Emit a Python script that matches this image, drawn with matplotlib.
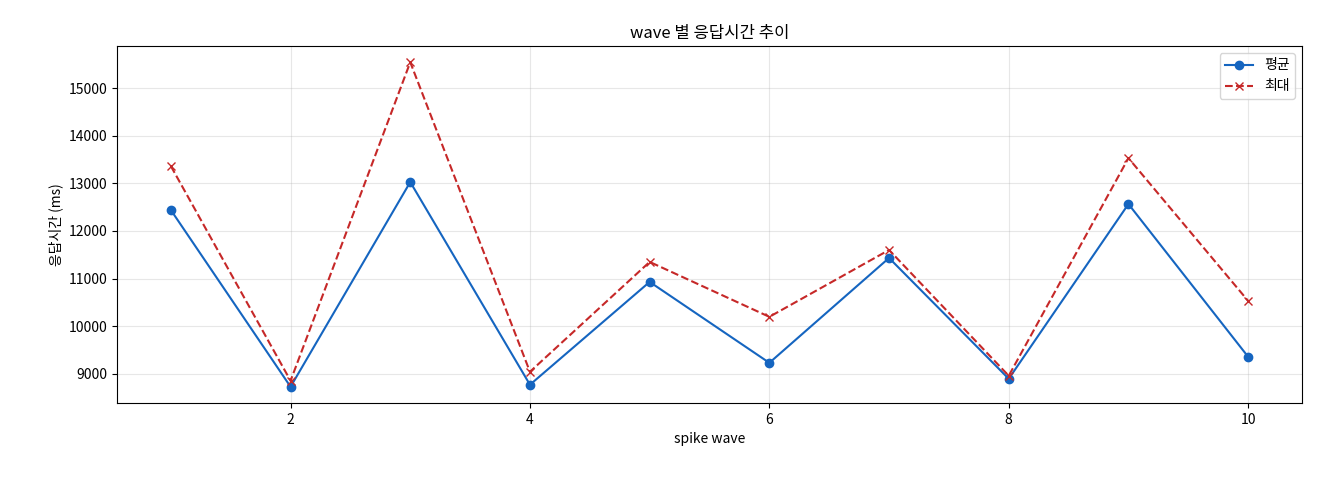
import matplotlib
matplotlib.use("Agg")
import matplotlib.pyplot as plt

plt.rcParams['font.family'] = ['Noto Sans CJK KR', 'DejaVu Sans']

waves = [1, 2, 3, 4, 5, 6, 7, 8, 9, 10]
avg_ms = [12440, 8727, 13028, 8770, 10930, 9230, 11433, 8895, 12566, 9357]
max_ms = [13363, 8853, 15545, 9042, 11350, 10196, 11601, 8958, 13531, 10531]

fig = plt.figure(figsize=(13.2, 4.8), dpi=100)
ax = fig.add_axes([117/1320, 1 - 403/480, (1302-117)/1320, (403-46)/480])
ax.plot(waves, avg_ms, '-o', color='#1565C0', markersize=6, label='평균')
ax.plot(waves, max_ms, '--x', color='#C62828', markersize=6, label='최대')
ax.set_title('wave 별 응답시간 추이')
ax.set_xlabel('spike wave')
ax.set_ylabel('응답시간 (ms)')
ax.grid(True, alpha=0.3)
ax.legend(loc='upper right')
fig.savefig('out.png', dpi=100)
